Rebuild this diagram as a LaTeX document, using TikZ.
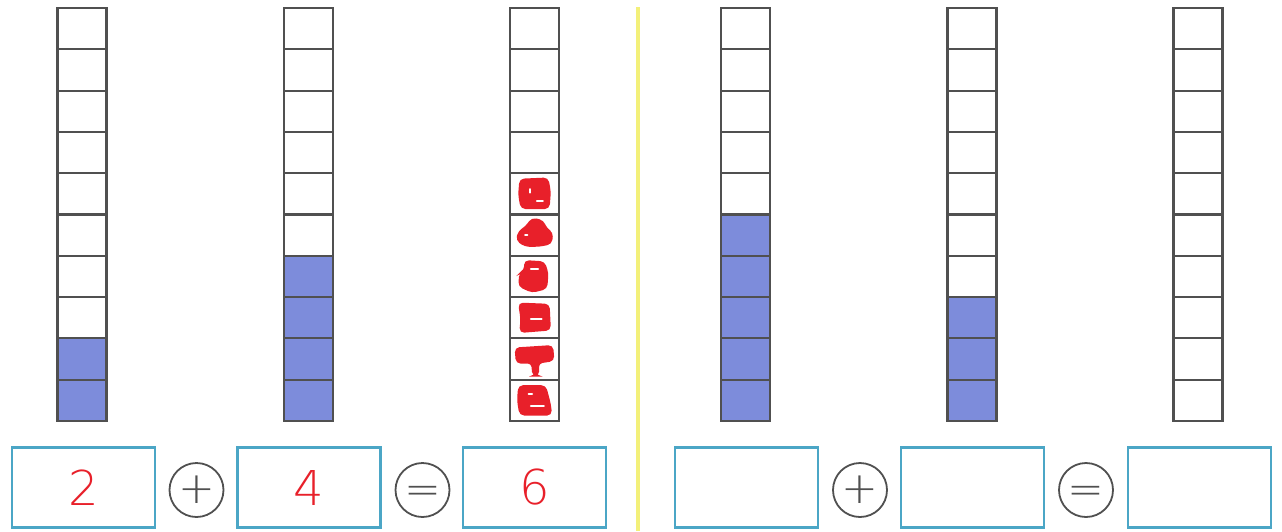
\documentclass[tikz,border=0pt]{standalone}
\usepackage{fontspec}
\setmainfont{Liberation Sans}
\newfontfamily\thinfont{DejaVu Sans ExtraLight}
\definecolor{cellfill}{HTML}{7D8CDB}
\definecolor{cellline}{HTML}{505050}
\definecolor{boxline}{HTML}{4BA6C6}
\definecolor{ansred}{HTML}{E8202A}
\definecolor{divider}{HTML}{F3F07A}
\tikzset{
  cell/.style={draw=cellline, line width=2.1pt, minimum width=49pt, minimum height=41.3pt, inner sep=0pt, outer sep=0pt},
  f0/.style={fill=white},
  f1/.style={fill=cellfill},
  ansbox/.style={draw=boxline, line width=2.2pt, minimum width=143pt, minimum height=80pt, inner sep=0pt, text=ansred, font=\thinfont\fontsize{48}{48}\selectfont},
  opcirc/.style={circle, draw=cellline, line width=1.8pt, minimum size=54pt, inner sep=0pt, font=\thinfont\fontsize{44}{44}\selectfont, text=cellline},
  eqsign/.style={text height=29.5pt, text depth=0pt},
  scrib/.style={fill=ansred, draw=ansred, line width=2pt, rounded corners=4pt},
  scribmark/.style={draw=white, line width=2pt, line cap=round},
  scribarea/.style={scale=1.18}
}
\begin{document}
\begin{tikzpicture}[x=1pt,y=-1pt]
\useasboundingbox (0,0) rectangle (1282,531);
\fill[white] (0,0) rectangle (1282,531);
% divider
\coordinate (dtop) at (638,7);
\coordinate (dbot) at (638,531);
\draw[divider, line width=4pt] (dtop) -- (dbot);
% columns of cells
\foreach \c/\x/\n in {1/82/2, 2/308.5/4, 3/534.5/0, 4/745.5/5, 5/972/3, 6/1198/0} {
  \foreach \i in {1,...,10} {
    \pgfmathtruncatemacro\filled{\i>10-\n ? 1 : 0}
    \pgfmathsetmacro\yy{8+41.3*(\i-0.5)}
    \node[cell, f\filled] (c\c-\i) at (\x,\yy) {};
  }
}
% red scribbles in column 3
\begin{scope}[shift={(c3-5.center)}, scribarea]
  \fill[scrib] (-12,-12) -- (11,-13) -- (13,-2) -- (12,12) -- (-11,12) -- (-13,1) -- cycle;
  \draw[scribmark] (-4,-4) -- (-4,-1);
  \draw[scribmark] (2,6) -- (7,6);
\end{scope}
\begin{scope}[shift={(c3-6.center)}, scribarea]
  \fill[scrib] (-2,-14) -- (7,-12) -- (10,-5) -- (15,-2) -- (14,7) -- (4,9) -- (-8,9) -- (-15,4) -- (-13,-3) -- (-7,-7) -- cycle;
  \draw[scribmark] (-8,0) -- (-6,0);
\end{scope}
\begin{scope}[shift={(c3-7.center)}, scribarea]
  \fill[scrib] (-8,-13) -- (8,-12) -- (11,-3) -- (10,10) -- (-2,13) -- (-13,8) -- (-12,-3) -- (-8,-5) -- cycle;
  \draw[scribmark] (-3,-6) -- (3,-6);
\end{scope}
\begin{scope}[shift={(c3-8.center)}, scribarea]
  \fill[scrib] (-13,-12) -- (12,-11) -- (13,10) -- (-12,12) -- (-11,1) -- cycle;
  \draw[scribmark] (-3,1) -- (6,1);
\end{scope}
\begin{scope}[shift={(c3-9.center)}, scribarea]
  \fill[scrib] (-16,-9) -- (15,-11) -- (16,1) -- (3,3) -- (3,14) -- (-1,14) -- (-2,3) -- (-15,3) -- cycle;
\end{scope}
\begin{scope}[shift={(c3-10.center)}, scribarea]
  \fill[scrib] (-13,-12) -- (9,-12) -- (13,3) -- (14,12) -- (-12,12) -- (-14,0) -- cycle;
  \draw[scribmark] (-3,5) -- (8,5);
  \draw[scribmark] (-5,-5) -- (-2,-5);
\end{scope}
% equation boxes
\node[ansbox] (b1) at (83.5,487.5) {2};
\node[opcirc] (p1) at (196.5,490) {+};
\node[ansbox] (b2) at (309,487.5) {4};
\node[opcirc, eqsign] (e1) at (422.5,490) {=};
\node[ansbox] (b3) at (534.5,487.5) {6};
\node[ansbox] (b4) at (746.5,487.5) {};
\node[opcirc] (p2) at (860,490) {+};
\node[ansbox] (b5) at (972.5,487.5) {};
\node[opcirc, eqsign] (e2) at (1086,490) {=};
\node[ansbox] (b6) at (1199.5,487.5) {};
\end{tikzpicture}
\end{document}
